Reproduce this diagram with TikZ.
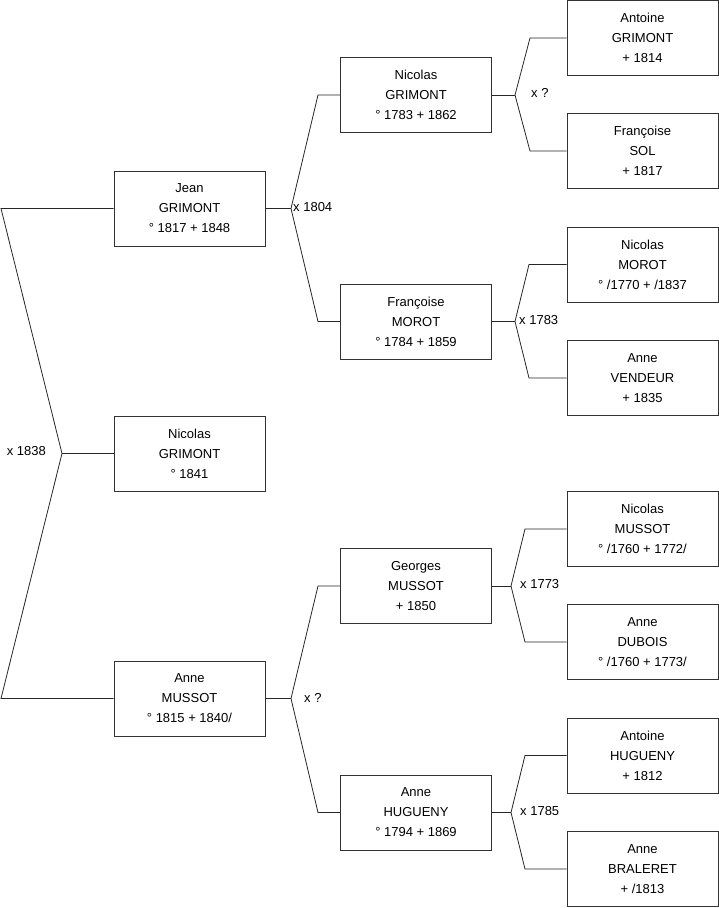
\documentclass[tikz,border=0pt]{standalone}
\usepackage{fontspec}
\setmainfont{Liberation Sans}
\begin{document}
\begin{tikzpicture}[x=1pt,y=1pt,
  person/.style={draw=black!80, line width=0.8pt, minimum width=151pt, minimum height=75pt, inner sep=0pt, align=center, font=\fontsize{13}{20}\selectfont},
  link/.style={draw=black!85, line width=0.8pt},
  mlabel/.style={font=\fontsize{13}{15}\selectfont, inner sep=0pt}]
\useasboundingbox (0,0) rectangle (719,-908);
% column 1
\node[person] (jean) at (189.5,-208.5) {Jean\\GRIMONT\\° 1817 + 1848};
\node[person] (nico) at (189.5,-453.5) {Nicolas\\GRIMONT\\° 1841};
\node[person] (anne) at (189.5,-698.5) {Anne\\MUSSOT\\° 1815 + 1840/};
% column 2
\node[person] (ng) at (416,-95) {Nicolas\\GRIMONT\\° 1783 + 1862};
\node[person] (fm) at (416,-321.5) {Françoise\\MOROT\\° 1784 + 1859};
\node[person] (gm) at (416,-586) {Georges\\MUSSOT\\+ 1850};
\node[person] (ah) at (416,-812.5) {Anne\\HUGUENY\\° 1794 + 1869};
% column 3
\node[person] (ag) at (642.5,-38) {Antoine\\GRIMONT\\+ 1814};
\node[person] (fs) at (642.5,-151) {Françoise\\SOL\\+ 1817};
\node[person] (nm) at (642.5,-264.5) {Nicolas\\MOROT\\° /1770 + /1837};
\node[person] (av) at (642.5,-378) {Anne\\VENDEUR\\+ 1835};
\node[person] (nmu) at (642.5,-529) {Nicolas\\MUSSOT\\° /1760 + 1772/};
\node[person] (ad) at (642.5,-642) {Anne\\DUBOIS\\° /1760 + 1773/};
\node[person] (ahu) at (642.5,-755.5) {Antoine\\HUGUENY\\+ 1812};
\node[person] (ab) at (642.5,-869) {Anne\\BRALERET\\+ /1813};
% root junction
\coordinate (r1) at (1,-208.5);
\coordinate (r2) at (62,-453.5);
\coordinate (r3) at (1,-698.5);
\draw[link] (jean.west) -- (r1) -- (r2) -- (r3) -- (anne.west);
\draw[link] (r2) -- (nico.west);
\node[mlabel, anchor=east] (m0) at (46,-451) {x 1838};
% Jean's parents
\coordinate (j0) at (291,-208.5);
\coordinate (j1) at (318,-95);
\coordinate (j2) at (318,-321.5);
\draw[link] (jean.east) -- (j0);
\draw[link] (ng.west) -- (j1) -- (j0) -- (j2) -- (fm.west);
\node[mlabel, anchor=west] (m1) at (293,-207) {x 1804};
% Anne's parents
\coordinate (a0) at (291,-698.5);
\coordinate (a1) at (318,-586);
\coordinate (a2) at (318,-812.5);
\draw[link] (anne.east) -- (a0);
\draw[link] (gm.west) -- (a1) -- (a0) -- (a2) -- (ah.west);
\node[mlabel, anchor=west] (m2) at (304,-698) {x ?};
% Nicolas (col2) parents
\coordinate (n0) at (515,-95);
\coordinate (n1) at (530,-38);
\coordinate (n2) at (530,-151);
\draw[link] (ng.east) -- (n0);
\draw[link] (ag.west) -- (n1) -- (n0) -- (n2) -- (fs.west);
\node[mlabel, anchor=west] (m3) at (531,-93) {x ?};
% Francoise MOROT parents
\coordinate (f0) at (515,-321.5);
\coordinate (f1) at (529,-264.5);
\coordinate (f2) at (529,-378);
\draw[link] (fm.east) -- (f0);
\draw[link] (nm.west) -- (f1) -- (f0) -- (f2) -- (av.west);
\node[mlabel, anchor=west] (m4) at (519,-320) {x 1783};
% Georges parents
\coordinate (g0) at (511,-586);
\coordinate (g1) at (525,-529);
\coordinate (g2) at (525,-642);
\draw[link] (gm.east) -- (g0);
\draw[link] (nmu.west) -- (g1) -- (g0) -- (g2) -- (ad.west);
\node[mlabel, anchor=west] (m5) at (520,-584) {x 1773};
% Anne HUGUENY parents
\coordinate (h0) at (511,-812.5);
\coordinate (h1) at (525,-755.5);
\coordinate (h2) at (525,-869);
\draw[link] (ah.east) -- (h0);
\draw[link] (ahu.west) -- (h1) -- (h0) -- (h2) -- (ab.west);
\node[mlabel, anchor=west] (m6) at (520,-811) {x 1785};
\end{tikzpicture}
\end{document}
